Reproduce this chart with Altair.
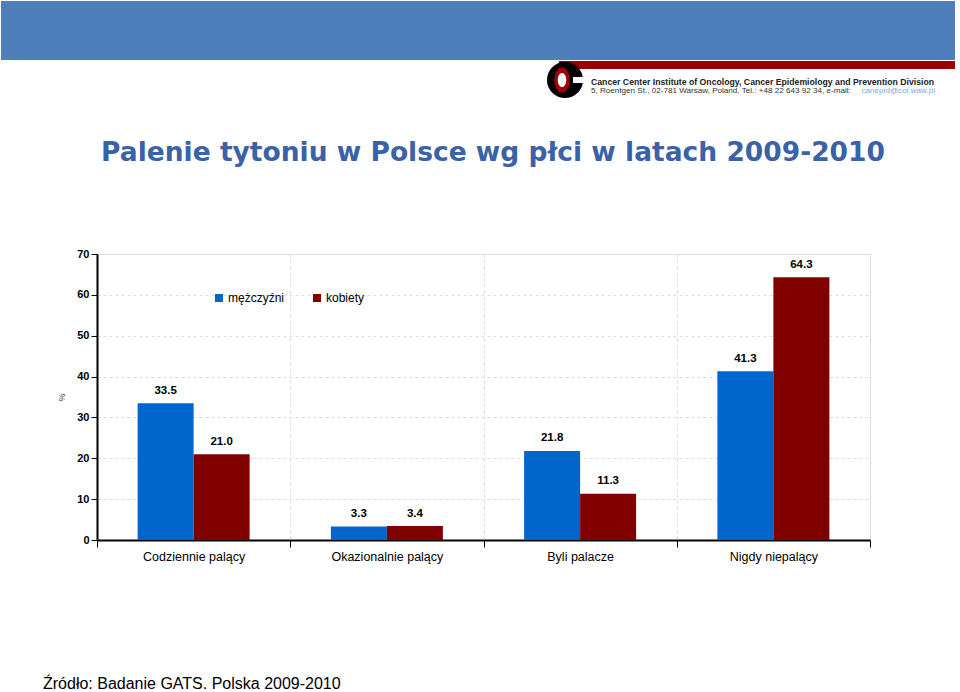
import altair as alt
import pandas as pd

categories = ["Codziennie palący", "Okazionalnie palący", "Byli palacze", "Nigdy niepalący"]
series = ["mężczyźni", "kobiety"]
men = [33.5, 3.3, 21.8, 41.3]
women = [21.0, 3.4, 11.3, 64.3]
colors = ["#0066CC", "#800000"]
y_ticks = [0, 10, 20, 30, 40, 50, 60, 70]

title_text = "Palenie tytoniu w Polsce wg płci w latach 2009-2010"
source_text = "Źródło: Badanie GATS. Polska 2009-2010"
header1 = "Cancer Center Institute of Oncology, Cancer Epidemiology and Prevention Division"
header2 = "5, Roentgen St., 02-781 Warsaw, Poland, Tel.: +48 22 643 92 34, e-mail: "
header_mail = "canepid@coi.waw.pl"

rows = []
for c, m, w in zip(categories, men, women):
    rows.append({"cat": c, "series": series[0], "value": m})
    rows.append({"cat": c, "series": series[1], "value": w})
df = pd.DataFrame(rows)
df["label"] = df["value"].map(lambda v: f"{v:.1f}")

one = pd.DataFrame({"k": [0]})

W, H = 773, 286
PL, PT = 97, 254
FONT = "Liberation Sans"

x_enc = alt.X(
    "cat:N", sort=categories,
    scale=alt.Scale(paddingInner=0, paddingOuter=0),
    axis=alt.Axis(
        title=None, tickBand="extent", grid=True, gridDash=[3, 3], gridColor="#dddddd",
        domainColor="black", domainWidth=2, tickColor="black", tickSize=7, tickWidth=1,
        labelAngle=0, labelFontSize=12.5, labelColor="black", labelFont=FONT,
        labelPadding=3,
    ),
)
xoff_enc = alt.XOffset("series:N", sort=series,
                       scale=alt.Scale(paddingInner=0, paddingOuter=0.7254))
y_enc = alt.Y(
    "value:Q",
    scale=alt.Scale(domain=[0, 70], nice=False),
    axis=alt.Axis(
        values=y_ticks, title="%", titleX=-31, titleY=143, titleFontSize=9,
        titleFontWeight="normal", titleFont=FONT, titleColor="#333333",
        grid=True, gridDash=[3, 3], gridColor="#dddddd",
        domainColor="black", domainWidth=2, tickColor="black", tickSize=6,
        labelFont=FONT, labelFontSize=11, labelFontWeight="bold", labelColor="black",
        labelPadding=2,
    ),
)
color_enc = alt.Color(
    "series:N", sort=series,
    scale=alt.Scale(domain=series, range=colors),
    legend=alt.Legend(
        title=None, orient="none", legendX=116, legendY=38, direction="horizontal",
        symbolType="square", symbolSize=64, symbolStrokeWidth=0,
        labelFontSize=12, labelFont=FONT, labelColor="black",
        columnPadding=26, labelOffset=3,
    ),
)

bars = alt.Chart(df).mark_bar().encode(
    x=x_enc, xOffset=xoff_enc, y=y_enc, color=color_enc
)
labels = alt.Chart(df).mark_text(
    dy=-9.5, baseline="alphabetic", font=FONT, fontSize=11.5, fontWeight="bold", color="black"
).encode(x=x_enc, xOffset=xoff_enc, y=y_enc, text="label:N")

banner = alt.Chart(one).mark_rect(color="#4F7FBA").encode(
    x=alt.value(-96), x2=alt.value(858), y=alt.value(-253), y2=alt.value(-194)
)
stripe = alt.Chart(one).mark_rect(color="#990000").encode(
    x=alt.value(462), x2=alt.value(858), y=alt.value(-193), y2=alt.value(-185)
)
logo_black = alt.Chart(one).mark_point(
    shape="circle", filled=True, color="black", opacity=1, size=1300
).encode(x=alt.value(468), y=alt.value(-174))
logo_notch = alt.Chart(one).mark_rect(color="white").encode(
    x=alt.value(476), x2=alt.value(490), y=alt.value(-177), y2=alt.value(-171)
)
ellipse = "M0,-1 A0.6,1 0 1,1 0,1 A0.6,1 0 1,1 0,-1 Z"
logo_red = alt.Chart(one).mark_point(
    shape=ellipse, filled=True, color="#A00000", opacity=1, size=650
).encode(x=alt.value(465), y=alt.value(-174))
logo_white = alt.Chart(one).mark_point(
    shape=ellipse, filled=True, color="white", opacity=1, size=200
).encode(x=alt.value(465), y=alt.value(-174))

h1 = alt.Chart(one).mark_text(
    align="left", baseline="middle", font=FONT, fontSize=8.7, fontWeight="bold", color="#222222"
).encode(x=alt.value(494), y=alt.value(-172), text=alt.value(header1))
h2 = alt.Chart(one).mark_text(
    align="left", baseline="middle", font=FONT, fontSize=8.1, color="#333333"
).encode(x=alt.value(494), y=alt.value(-163), text=alt.value(header2))
h3 = alt.Chart(one).mark_text(
    align="right", baseline="middle", font=FONT, fontSize=8.1, color="#7FA7D8"
).encode(x=alt.value(838), y=alt.value(-163), text=alt.value(header_mail))

title = alt.Chart(one).mark_text(
    align="center", baseline="alphabetic", font="DejaVu Sans", fontSize=26.5, fontWeight="bold",
    color="#3A62A8"
).encode(x=alt.value(396), y=alt.value(-93), text=alt.value(title_text))

source = alt.Chart(one).mark_text(
    align="left", baseline="alphabetic", font=FONT, fontSize=16, color="black"
).encode(x=alt.value(-54), y=alt.value(435), text=alt.value(source_text))

chart = alt.layer(
    bars, labels, banner, stripe, logo_black, logo_notch, logo_red, logo_white,
    h1, h2, h3, title, source
).properties(
    width=W, height=H,
    autosize=alt.AutoSizeParams(type="none"),
    padding={"left": PL, "top": PT, "right": 960 - PL - W, "bottom": 692 - PT - H},
).configure_view(stroke="#cccccc", strokeWidth=1).configure(background="white")

chart.save("out.html", embed_options={"renderer": "svg", "actions": False})
